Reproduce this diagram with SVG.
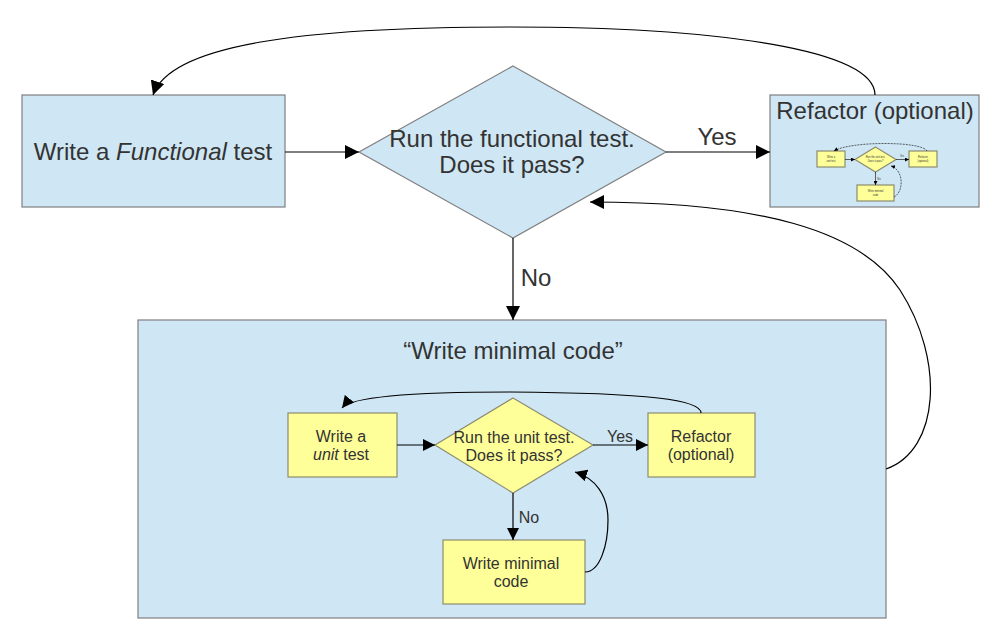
<svg xmlns="http://www.w3.org/2000/svg" width="1007" height="641" viewBox="0 0 1007 641">
<style>
.blue{fill:#cfe6f4;stroke:#7f7f7f;stroke-width:1.2}
.yel{fill:#ffff99;stroke:#8c8c70;stroke-width:1.2}
.conn{fill:none;stroke:#000;stroke-width:1.2}
.thin{fill:none;stroke:#000;stroke-width:0.6}
text{font-family:"Liberation Sans",Arial,sans-serif;fill:#333;text-anchor:middle}
.big{font-size:24px}
.mid{font-size:16px}
.tiny{font-size:2.6px}
</style>
<defs>
<marker id="ah" viewBox="0 0 10 10" refX="10" refY="5" markerWidth="14" markerHeight="14" markerUnits="userSpaceOnUse" orient="auto">
<path d="M0,0 L10,5 L0,10 z" fill="#000"/>
</marker>
<marker id="ahs" viewBox="0 0 10 10" refX="10" refY="5" markerWidth="12" markerHeight="12" markerUnits="userSpaceOnUse" orient="auto">
<path d="M0,0 L10,5 L0,10 z" fill="#000"/>
</marker>
<marker id="aht" viewBox="0 0 10 10" refX="10" refY="5" markerWidth="4" markerHeight="4" markerUnits="userSpaceOnUse" orient="auto">
<path d="M0,0 L10,5 L0,10 z" fill="#000"/>
</marker>
</defs>

<g id="write-functional">
<rect class="blue" x="22" y="95" width="263" height="112"/>
<text class="big" x="153" y="160">Write a <tspan font-style="italic">Functional</tspan> test</text>
</g>

<g id="run-functional">
<polygon class="blue" points="513,66 666,152 513,238 359,152"/>
<text class="big" x="512" y="147">Run the functional test.</text>
<text class="big" x="512" y="173">Does it pass?</text>
</g>

<g id="refactor">
<rect class="blue" x="770" y="95" width="209" height="112"/>
<text class="big" x="875" y="119">Refactor (optional)</text>
<g id="refactor-miniature">
<rect class="yel" x="817" y="151" width="28" height="16" stroke-width="0.4"/>
<polygon class="yel" points="875.5,147 896,159.5 875.5,172 855,159.5" stroke-width="0.4"/>
<rect class="yel" x="909" y="151" width="28" height="16" stroke-width="0.4"/>
<rect class="yel" x="857" y="185" width="37" height="16" stroke-width="0.4"/>
<path class="thin" d="M845,159.5 L855,159.5" marker-end="url(#aht)"/>
<path class="thin" d="M896,159.5 L909,159.5" marker-end="url(#aht)"/>
<path class="thin" d="M875.5,172 L875.5,185" marker-end="url(#aht)"/>
<path class="thin" stroke-dasharray="2,1" d="M927,151 C922,141 850,141 834,151" marker-end="url(#aht)"/>
<path class="thin" stroke-dasharray="2,1" d="M894,197 C904,192 904,170 891,166" marker-end="url(#aht)"/>
<text class="tiny" x="831" y="158">Write a</text>
<text class="tiny" x="831" y="162">unit test</text>
<text class="tiny" x="875.5" y="158">Run the unit test.</text>
<text class="tiny" x="875.5" y="162">Does it pass?</text>
<text class="tiny" x="902" y="157">Yes</text>
<text class="tiny" x="923" y="158">Refactor</text>
<text class="tiny" x="923" y="162">(optional)</text>
<text class="tiny" x="879" y="180">No</text>
<text class="tiny" x="875.5" y="192">Write minimal</text>
<text class="tiny" x="875.5" y="196">code</text>
</g>
</g>

<g id="write-minimal-code">
<rect class="blue" x="138" y="320" width="748" height="298"/>
<text class="big" x="513" y="359">“Write minimal code”</text>
</g>

<g id="write-unit">
<rect class="yel" x="288" y="413" width="109" height="64"/>
<text class="mid" x="341" y="442">Write a</text>
<text class="mid" x="341" y="460"><tspan font-style="italic">unit</tspan> test</text>
</g>

<g id="run-unit">
<polygon class="yel" points="513,398 593,445 513,493 435,445"/>
<text class="mid" x="514" y="443">Run the unit test.</text>
<text class="mid" x="514" y="461">Does it pass?</text>
</g>

<g id="refactor-unit">
<rect class="yel" x="648" y="413" width="107" height="64"/>
<text class="mid" x="701" y="442">Refactor</text>
<text class="mid" x="701" y="460">(optional)</text>
</g>

<g id="write-minimal-unit">
<rect class="yel" x="443" y="540" width="142" height="64"/>
<text class="mid" x="511" y="569">Write minimal</text>
<text class="mid" x="511" y="587">code</text>
</g>

<g id="connectors">
<path class="conn" d="M285,152 L359,152" marker-end="url(#ah)"/>
<path class="conn" d="M666,152 L770,152" marker-end="url(#ah)"/>
<text class="big" x="717" y="145">Yes</text>
<path class="conn" d="M513,238 L513,320" marker-end="url(#ah)"/>
<text class="big" x="536" y="286">No</text>
<path class="conn" d="M875,95 C875,50 720,27 510,27 C300,27 170,45 153,95" marker-end="url(#ah)"/>
<path class="conn" d="M886,469 C940,450 945,360 900,290 C860,230 760,202 590,202" marker-end="url(#ah)"/>

<path class="conn" d="M397,445 L435,445" marker-end="url(#ahs)"/>
<path class="conn" d="M593,445 L648,445" marker-end="url(#ahs)"/>
<text class="mid" x="620" y="442">Yes</text>
<path class="conn" d="M513,493 L513,540" marker-end="url(#ahs)"/>
<text class="mid" x="529" y="523">No</text>
<path class="conn" d="M701,413 C701,400 650,393 510,392 C400,392 350,398 342,408" marker-end="url(#ahs)"/>
<path class="conn" d="M585,572 C600,572 608,545 608,520 C608,495 595,478 575,472" marker-end="url(#ahs)"/>
</g>
</svg>
